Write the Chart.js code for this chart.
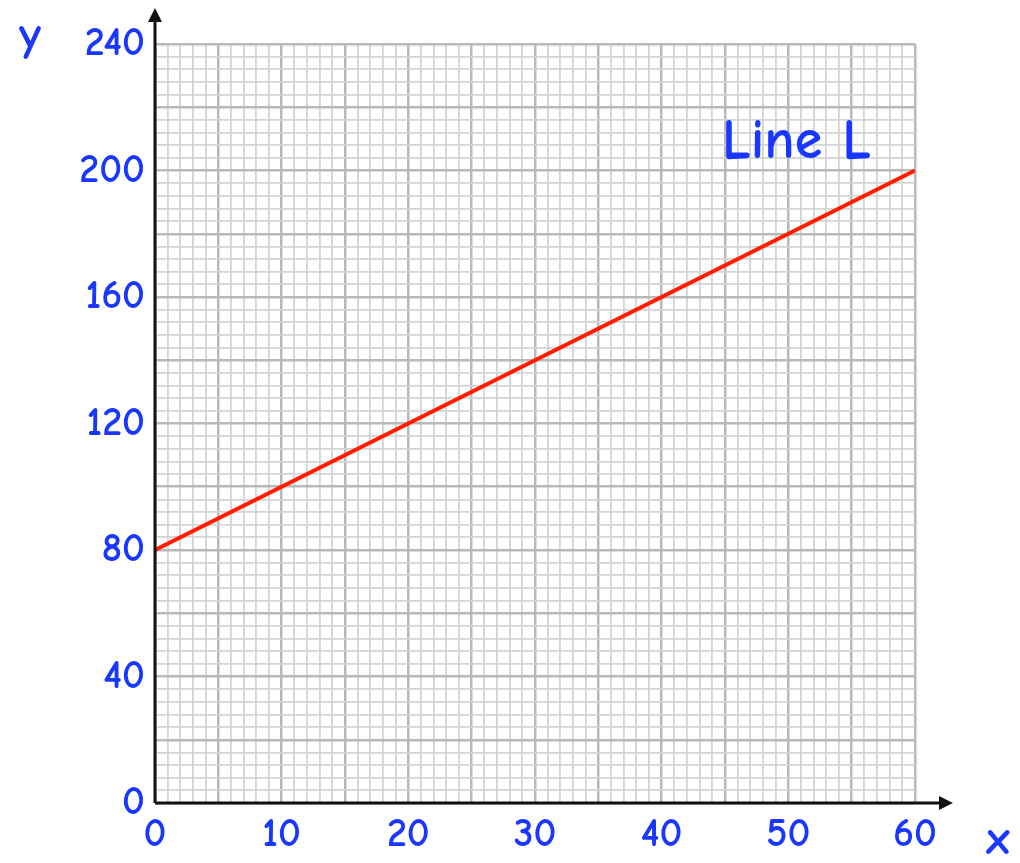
<!DOCTYPE html>
<html>
<head>
<meta charset="utf-8">
<script src="https://cdn.jsdelivr.net/npm/chart.js@4.4.1/dist/chart.umd.min.js"></script>
<style>
  html, body { margin: 0; padding: 0; background: #fff; }
  #wrap { width: 1020px; height: 863px; }
</style>
</head>
<body>
<div id="wrap"><canvas id="line-chart"></canvas></div>
<script>
// line L passes through these points
const xValues = [0, 60];
const yValues = [80, 200];
const xTicks = [0, 10, 20, 30, 40, 50, 60];
const yTicks = [0, 40, 80, 120, 160, 200, 240];
const lineLabel = 'Line L';

const blue = 'rgb(25, 55, 255)';
const font = '"Comic Sans MS", "Comic Neue", Lato, sans-serif';

// axis arrows, axis letters and the line label
const extras = {
    id: 'extras',
    afterDraw(chart) {
        const c = chart.ctx;
        const x = chart.scales.x, y = chart.scales.y;
        const ox = x.getPixelForValue(0), oy = y.getPixelForValue(0);
        c.save();
        c.strokeStyle = '#111';
        c.fillStyle = '#111';
        c.lineWidth = 3;
        c.beginPath();
        c.moveTo(ox, oy);
        c.lineTo(ox, 16);
        c.moveTo(ox, oy);
        c.lineTo(940, oy);
        c.stroke();
        c.beginPath();
        c.moveTo(ox, 8); c.lineTo(ox - 7, 22); c.lineTo(ox + 7, 22); c.closePath();
        c.fill();
        c.beginPath();
        c.moveTo(953, oy); c.lineTo(939, oy - 7); c.lineTo(939, oy + 7); c.closePath();
        c.fill();

        c.fillStyle = blue;
        c.font = 'bold 48px ' + font;
        c.textAlign = 'center';
        c.textBaseline = 'middle';
        c.fillText('y', 30, 36);
        c.fillText('x', 998, 840);
        c.font = 'bold 56px ' + font;
        c.textAlign = 'left';
        c.fillText(lineLabel, 722, 142);
        c.restore();
    }
};

const ctx = document.getElementById('line-chart').getContext('2d');
const lineChart = new Chart(ctx, {
    type: 'line',
    data: {
        datasets: [{
            label: lineLabel,
            data: xValues.map((v, i) => ({ x: v, y: yValues[i] })),
            borderColor: 'rgb(255, 30, 0)',
            borderWidth: 4,
            pointRadius: 0,
            fill: false
        }]
    },
    options: {
        responsive: true,
        maintainAspectRatio: false,
        animation: false,
        layout: { padding: { left: 0, top: 44, right: 105, bottom: 0 } },
        plugins: { legend: { display: false }, tooltip: { enabled: false } },
        scales: {
            x: {
                type: 'linear',
                min: 0, max: 60,
                afterFit: s => { s.height = 60; },
                afterBuildTicks: s => {
                    s.ticks = [];
                    for (let v = 0; v <= 60; v++) s.ticks.push({ value: v });
                },
                border: { display: false },
                grid: {
                    drawTicks: false,
                    color: c => c.tick.value % 5 === 0 ? 'rgb(185,185,185)' : 'rgb(212,212,212)',
                    lineWidth: c => c.tick.value % 5 === 0 ? 2.5 : 1.8
                },
                ticks: {
                    autoSkip: false,
                    maxRotation: 0,
                    padding: 8,
                    color: blue,
                    font: { family: font, size: 40, weight: 'bold' },
                    callback: v => xTicks.includes(v) ? String(v) : ''
                }
            },
            y: {
                min: 0, max: 240,
                afterFit: s => { s.width = 155; },
                afterBuildTicks: s => {
                    s.ticks = [];
                    for (let v = 0; v <= 240; v += 4) s.ticks.push({ value: v });
                },
                border: { display: false },
                grid: {
                    drawTicks: false,
                    color: c => c.tick.value % 20 === 0 ? 'rgb(185,185,185)' : 'rgb(212,212,212)',
                    lineWidth: c => c.tick.value % 20 === 0 ? 2.5 : 1.8
                },
                ticks: {
                    autoSkip: false,
                    padding: 10,
                    color: blue,
                    font: { family: font, size: 40, weight: 'bold' },
                    callback: v => yTicks.includes(v) ? String(v) : ''
                }
            }
        }
    },
    plugins: [extras]
});
</script>
</body>
</html>
